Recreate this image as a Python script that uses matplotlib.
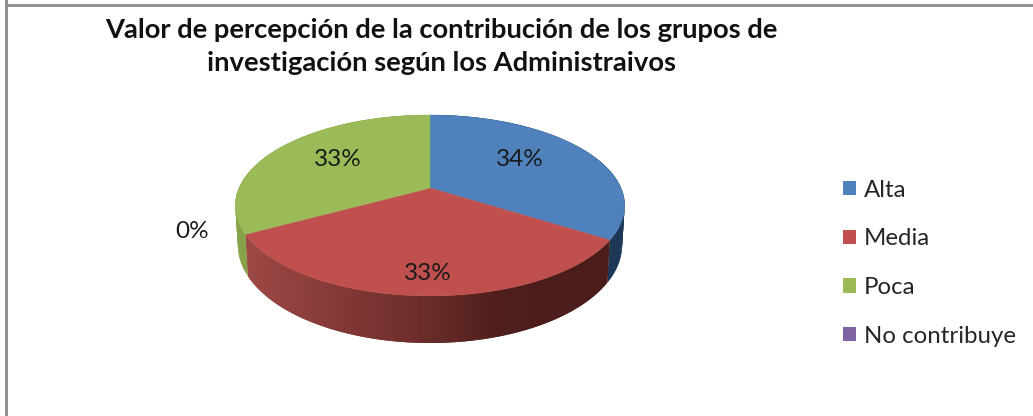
import numpy as np
import matplotlib
matplotlib.use("Agg")
import matplotlib.pyplot as plt
from matplotlib.collections import PolyCollection
from matplotlib.patches import Patch
from matplotlib.colors import to_rgb

categories = ["Alta", "Media", "Poca", "No contribuye"]
values = [34, 33, 33, 0]
colors = ["#4f81bd", "#c0504d", "#9bbb59", "#8064a2"]
title_text = "Valor de percepción de la contribución de los grupos de\ninvestigación según los Administraivos"

plt.rcParams["font.family"] = ["Lato", "DejaVu Sans"]

CX, CY, R, A, K, D = 430, 188, 191, 87.1, 0.193, 38
BOTTOM_SHRINK = 0.987

def project(theta, r=1.0):
    u = r * np.sin(theta)
    v = r * np.cos(theta)
    den = 1 + K * v
    return CX + R * u / den, CY - A * v / den, D / den

def lerp(stops, x):
    xs = [s[0] for s in stops]
    rgb = np.array([to_rgb(s[1]) for s in stops])
    return tuple(np.interp(x, xs, rgb[:, i]) for i in range(3))

wall_stops = {
    0: [(0, "#1d3856"), (1033, "#1d3856")],
    1: [(250, "#9c4845"), (330, "#863a37"), (420, "#6c2d2a"), (500, "#4e1e1c"), (610, "#4a1c1a")],
    2: [(235, "#86a34a"), (300, "#7d9a44")],
    3: [(0, "#8064a2"), (1033, "#8064a2")],
}

fig = plt.figure(figsize=(10.33, 4.16), dpi=100, facecolor="white")
ax = fig.add_axes([0, 0, 1, 1])
ax.set_xlim(0, 1033)
ax.set_ylim(416, 0)
ax.axis("off")

# chart frame (left and top edges visible)
ax.axvline(6, color="#8c8c8c", lw=2)
ax.axhline(5, xmin=6 / 1033, color="#8c8c8c", lw=2)

fractions = np.array(values, dtype=float) / sum(values)
edges = np.concatenate([[0], np.cumsum(fractions)]) * 2 * np.pi

# side walls: overlapping quads so no seams show
for i in range(len(values)):
    if fractions[i] == 0:
        continue
    ts = np.linspace(edges[i], edges[i + 1], 121)
    polys, cols = [], []
    for j in range(len(ts) - 1):
        a, b = ts[j], ts[min(j + 2, len(ts) - 1)]
        xa, ya, da = project(a)
        xb, yb, db = project(b)
        xa2 = CX + (xa - CX) * BOTTOM_SHRINK
        xb2 = CX + (xb - CX) * BOTTOM_SHRINK
        polys.append([(xa, ya), (xb, yb), (xb2, yb + db), (xa2, ya + da)])
        cols.append(lerp(wall_stops[i], (xa + xb) / 2))
    ax.add_collection(PolyCollection(polys, facecolors=cols, edgecolors="none", linewidths=0))

# top faces
for i in range(len(values)):
    if fractions[i] == 0:
        continue
    ts = np.linspace(edges[i], edges[i + 1], 200)
    xs, ys, _ = project(ts)
    ax.fill(np.r_[CX, xs], np.r_[CY, ys], color=colors[i], lw=0.3)

# data labels
label_xy = [(520, 159.5), (428, 274), (338, 159.5), (192, 232)]
for v, (x, y) in zip(values, label_xy):
    ax.text(x, y, f"{v}%", ha="center", va="center", fontsize=17.5, color="#1a1a1a")

ax.text(441.5, 46.5, title_text, ha="center", va="center", fontsize=19.7, fontweight="bold",
        color="#111111", linespacing=1.47)

handles = [Patch(facecolor=c, edgecolor="none") for c in colors]
ax.legend(handles, categories, loc="upper left", bbox_to_anchor=(838 / 1033, 1 - 175 / 416),
          frameon=False, fontsize=17.3, handlelength=0.54, handleheight=0.54, handletextpad=0.33,
          labelspacing=1.15, labelcolor="#262626", borderpad=0.2, borderaxespad=0)

fig.savefig("out.png", dpi=100, facecolor="white")
